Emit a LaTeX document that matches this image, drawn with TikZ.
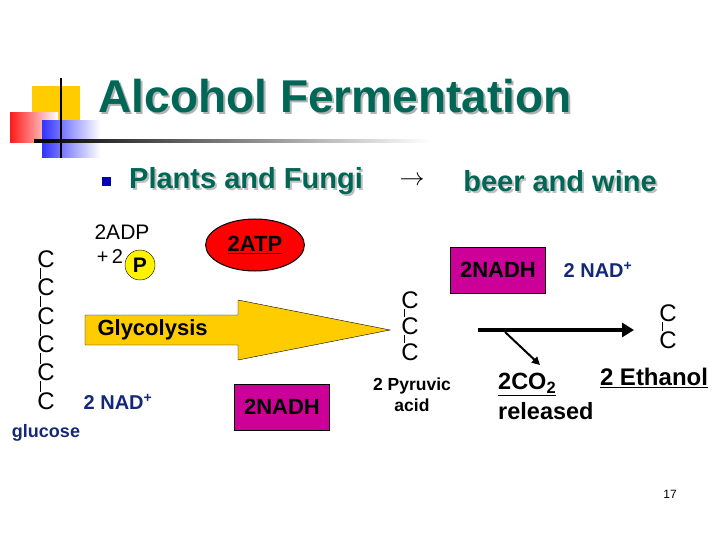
\documentclass[tikz,border=0pt]{standalone}
\usepackage{fontspec}
\setmainfont{Liberation Sans}
\usetikzlibrary{arrows.meta}
\definecolor{teal1}{RGB}{0,102,85}
\definecolor{navy}{RGB}{20,40,120}
\definecolor{mag}{RGB}{204,0,153}
\definecolor{gold}{RGB}{255,204,0}
\tikzset{
 cc/.style={font=\fontsize{24}{24}\selectfont, inner sep=0pt, text=black},
 lab/.style={font=\bfseries\fontsize{20}{22}\selectfont, inner sep=0pt, align=center, text=black},
 navylab/.style={lab, text=navy},
 boxm/.style={draw, fill=mag, minimum width=95pt, minimum height=46pt},
 boxt/.style={font=\bfseries\fontsize{22}{22}\selectfont, text=black},
 head/.style={font=\bfseries\fontsize{29}{29}\selectfont, text=teal1},
 bond/.style={line width=1pt},
}
\begin{document}
\begin{tikzpicture}[x=1pt,y=-1pt]
\useasboundingbox (0,0) rectangle (720,540);
% decoration
\fill[gold] (32,86) rectangle (80,121);
\shade[left color=red!90, right color=white] (10,113) rectangle (58,143);
\shade[left color=blue!80, right color=white] (42,121) rectangle (100,158);
\draw[line width=1.5pt] (61,78) -- (61,158);
\shade[left color=black, right color=white] (34,140) rectangle (430,142.5);
% title
\node[font=\bfseries\fontsize{46}{46}\selectfont, text=gray!60] (tsh) at (337,98) {Alcohol Fermentation};
\node[font=\bfseries\fontsize{46}{46}\selectfont, text=teal1] (title) at (335,96) {Alcohol Fermentation};
% bullet line
\fill[blue!70!black] (102,177) rectangle (111,186);
\node[head, text=gray!50] at (248,183) {Plants and Fungi};
\node[head] (pf) at (246,181) {Plants and Fungi};
\node[font=\fontsize{26}{26}\selectfont] (arr) at (412,181) {$\rightarrow$};
\node[head, text=gray!50] at (562,183) {beer and wine};
\node[head] (bw) at (560,181) {beer and wine};
% glucose
\foreach \i in {0,...,5} \node[cc] (g\i) at (46,259+28.4*\i) {C};
\foreach \i [evaluate=\i as \j using int(\i+1)] in {0,...,4}
  \draw[bond] ([xshift=3pt]g\i.south west) -- ([xshift=3pt]g\j.north west);
\node[navylab, font=\bfseries\fontsize{18}{18}\selectfont] (glu) at (46,433) {glucose};
% ADP
\node[font=\fontsize{21}{21}\selectfont, inner sep=0pt] (adp) at (122,232) {2ADP};
\node[font=\fontsize{20}{20}\selectfont, inner sep=0pt] (plus) at (110,257) {+\,2};
\node[draw, fill=yellow, circle, minimum size=30pt, inner sep=0pt] (P) at (140,265) {};
\node[boxt, font=\bfseries\fontsize{21}{21}\selectfont] (Pt) at (P) {P};
% ATP
\node[draw, line width=1pt, fill=red, circle, xscale=1.9, minimum size=52pt] (atpe) at (255,245) {};
\node[boxt] (atp) at (atpe) {\underline{2ATP}};
% glycolysis arrow
\draw[fill=gold] (85,315) -- (238,315) -- (238,300) -- (390,330) -- (238,360) -- (238,345) -- (85,345) -- cycle;
\node[boxt, anchor=west] (gly) at (94,330) {Glycolysis};
\node[navylab] (nad1) at (118,402) {2 NAD\textsuperscript{+}};
\node[boxm] (nadh1) at (282,407) {};
\node[boxt] (nadh1t) at (nadh1) {2NADH};
% pyruvic
\foreach \i in {0,1,2} \node[cc] (p\i) at (410,300+26*\i) {C};
\foreach \i [evaluate=\i as \j using int(\i+1)] in {0,1}
  \draw[bond] ([xshift=3pt]p\i.south west) -- ([xshift=3pt]p\j.north west);
\node[font=\bfseries\fontsize{17.5}{21}\selectfont, align=center] (pyr) at (412,395) {2 Pyruvic\\acid};
% right
\node[boxm] (nadh2) at (498,270) {};
\node[boxt] (nadh2t) at (nadh2) {2NADH};
\node[navylab] (nad2) at (598,270) {2 NAD\textsuperscript{+}};
\coordinate (a0) at (478,330);
\coordinate (a1) at (634,330);
\coordinate (b0) at (505,332);
\coordinate (b1) at (540,365);
\draw[line width=4pt, -{Triangle[length=12pt,width=14pt]}] (a0) -- (a1);
\draw[line width=2pt, -{Triangle[length=8pt,width=8pt]}] (b0) -- (b1);
\node[font=\bfseries\fontsize{23.5}{30}\selectfont, align=left, anchor=north west, inner sep=0pt] (co2) at (498,373) {\underline{2CO\textsubscript{2}}\\released};
\foreach \i in {0,1} \node[cc] (e\i) at (668,313+27*\i) {C};
\draw[bond] ([xshift=3pt]e0.south west) -- ([xshift=3pt]e1.north west);
\node[font=\bfseries\fontsize{24}{24}\selectfont] (eth) at (654,378) {\underline{2 Ethanol}};
\node[font=\fontsize{12}{12}\selectfont] (num) at (670,494) {17};
\end{tikzpicture}
\end{document}
